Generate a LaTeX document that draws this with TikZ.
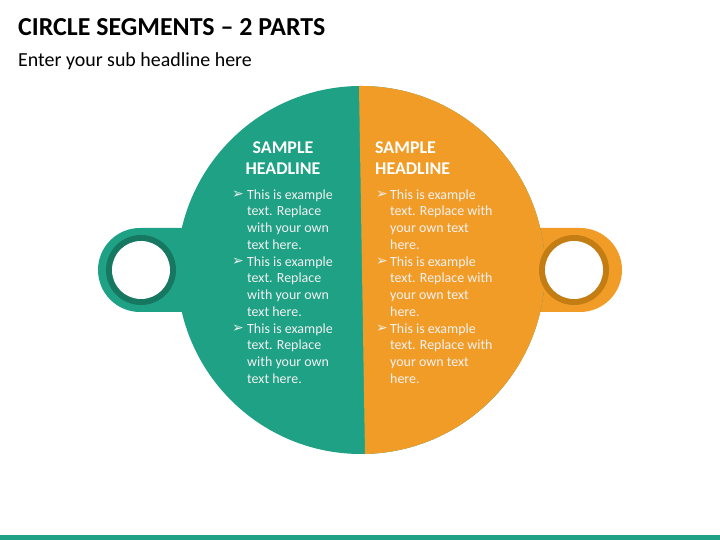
\documentclass[tikz,border=0pt]{standalone}
\usepackage{fontspec}
\setmainfont{Carlito}
\newfontfamily\symfont{DejaVu Sans}
\definecolor{segteal}{RGB}{31,161,133}
\definecolor{segtealdark}{RGB}{23,120,98}
\definecolor{segorange}{RGB}{242,156,40}
\definecolor{segorangedark}{RGB}{196,125,18}
\begin{document}
\begin{tikzpicture}[x=1bp, y=1bp, every node/.style={inner sep=0pt},
  headline/.style={text=white, font=\fontsize{18}{22}\selectfont\bfseries},
  itemtext/.style={text=white!95!black, align=left, anchor=base west, font=\fontsize{14}{16.8}\selectfont},
  itembullet/.style={text=white!95!black, anchor=base west, font=\symfont\fontsize{14}{16}\selectfont}]
  \useasboundingbox (0,0) rectangle (720,540);
  % title
  \node [anchor=base west, font=\fontsize{26}{30}\selectfont\bfseries] (title) at (18,504) {CIRCLE SEGMENTS -- 2 PARTS};
  \node [anchor=base west, font=\fontsize{20}{24}\selectfont] (subtitle) at (18,473) {Enter your sub headline here};
  % tabs
  \fill[segteal] (250,312) -- (140,312) arc (90:270:42) -- (250,228) -- cycle;
  \fill[segorange] (470,312) -- (580,312) arc (90:-90:42) -- (470,228) -- cycle;
  % circle in two parts
  \fill[segteal] (361,270) circle (184);
  \begin{scope}
    \clip (361,270) circle (184);
    \fill[segorange] (358.9,460) -- (560,460) -- (560,80) -- (365.1,80) -- cycle;
  \end{scope}
  % rings
  \fill[segtealdark] (141,270) circle (35);
  \fill[white] (141,270) circle (29);
  \fill[segorangedark] (574,270) circle (35);
  \fill[white] (574,270) circle (29);
  % headlines (base = last line)
  \node [headline, align=center, anchor=base] (lhead) at (283,365) {SAMPLE\\HEADLINE};
  \node [headline, align=left, anchor=base west] (rhead) at (375,365) {SAMPLE\\HEADLINE};
  % bullet texts
  \foreach \y/\n in {341/a,274/b,207/c} {
    \node [itembullet] (lbul\n) at (232,\y) {➢};
    \node [itemtext] (ltxt\n) at (247,\y-50.4) {This is example\\text. Replace\\with your own\\text here.};
    \node [itembullet] (rbul\n) at (376,\y) {➢};
    \node [itemtext] (rtxt\n) at (390,\y-50.4) {This is example\\text. Replace with\\your own text\\here.};
  }
  % bottom bar
  \fill[segteal] (0,0) rectangle (720,5);
\end{tikzpicture}
\end{document}
